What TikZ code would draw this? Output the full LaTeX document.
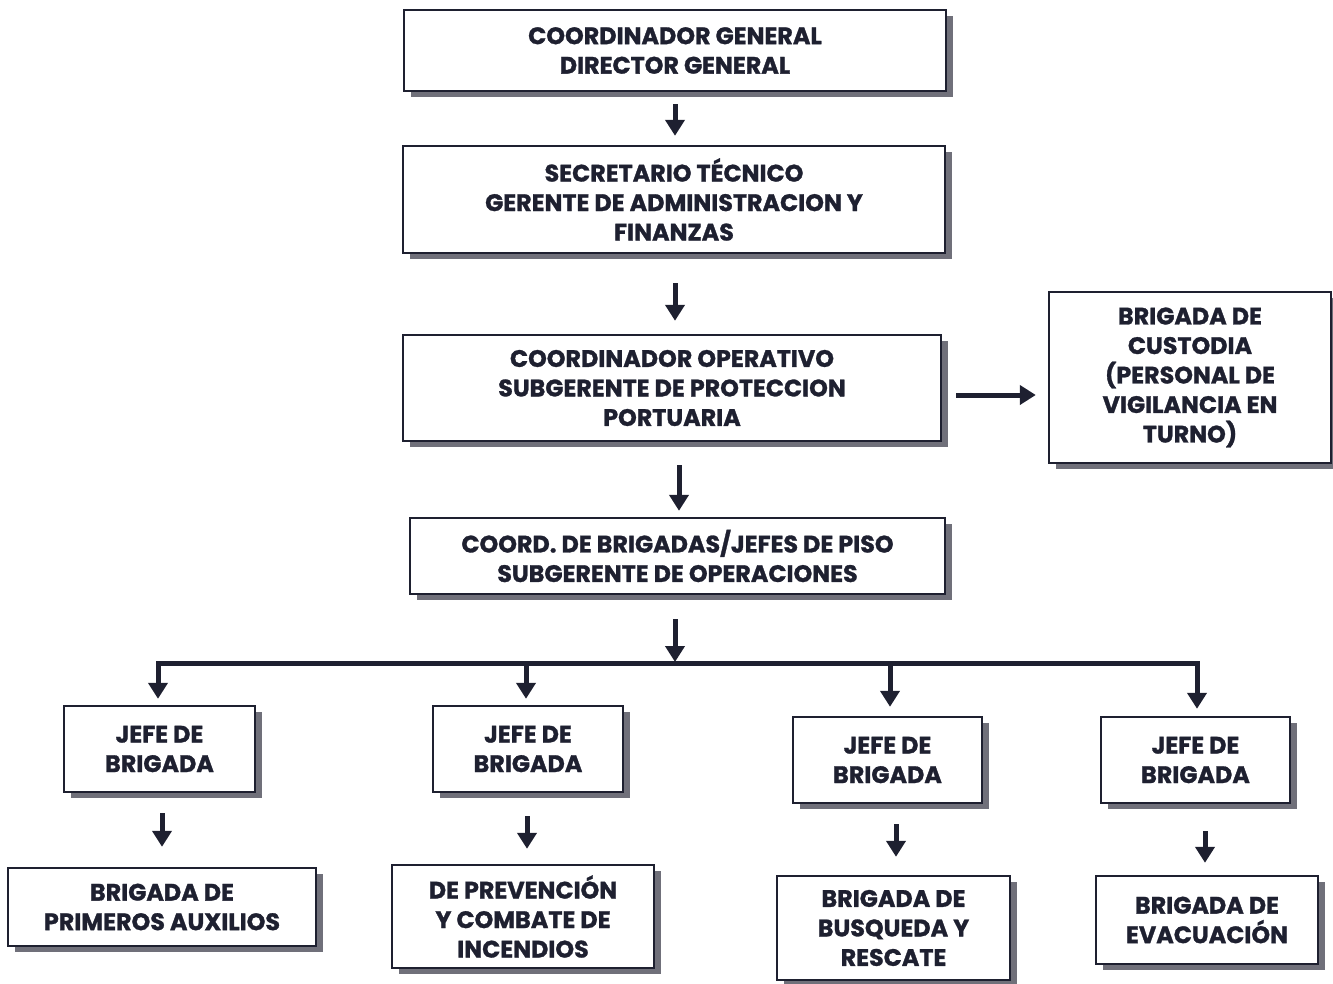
\documentclass[tikz,border=0pt]{standalone}
\usepackage{fontspec}
\setmainfont{Poppins}[BoldFeatures={FakeBold=1.2}]
\usetikzlibrary{arrows.meta,shadows,calc}
\definecolor{ink}{HTML}{1E2030}
\definecolor{shade}{HTML}{70707A}
\begin{document}
\begin{tikzpicture}[x=1pt,y=-1pt,
  box/.style={draw=ink,line width=2.4pt,fill=white,inner sep=0pt,align=center,
    font=\fontsize{23.8}{29.5}\selectfont\bfseries,text=ink,
    drop shadow={shadow xshift=7pt,shadow yshift=-6pt,fill=shade,opacity=1}},
  arr/.style={draw=ink,line width=5pt,-{Triangle[length=16pt,width=19pt]}},
  busline/.style={draw=ink,line width=5pt,line cap=rect}]
\useasboundingbox (0,0) rectangle (1333,984);
\node[box,minimum width=542pt,minimum height=81pt] (top) at (675,50.5) {COORDINADOR GENERAL\\DIRECTOR GENERAL};
\node[box,minimum width=542pt,minimum height=107pt] (sec) at (674,199.5) {SECRETARIO TÉCNICO\\GERENTE DE ADMINISTRACION Y\\FINANZAS};
\node[box,minimum width=538pt,minimum height=106pt] (op) at (672,388) {COORDINADOR OPERATIVO\\SUBGERENTE DE PROTECCION\\PORTUARIA};
\node[box,minimum width=282pt,minimum height=171pt] (cust) at (1190,377.5) {BRIGADA DE\\CUSTODIA\\(PERSONAL DE\\VIGILANCIA EN\\TURNO)};
\node[box,minimum width=535pt,minimum height=76pt] (cb) at (677.5,556) {COORD. DE BRIGADAS/JEFES DE PISO\\SUBGERENTE DE OPERACIONES};
\node[box,minimum width=191pt,minimum height=86pt] (j1) at (159.5,749) {JEFE DE\\BRIGADA};
\node[box,minimum width=190pt,minimum height=86pt] (j2) at (528,749) {JEFE DE\\BRIGADA};
\node[box,minimum width=189pt,minimum height=86pt] (j3) at (887.5,760) {JEFE DE\\BRIGADA};
\node[box,minimum width=189pt,minimum height=86pt] (j4) at (1195.5,760) {JEFE DE\\BRIGADA};
\node[box,minimum width=308pt,minimum height=78pt] (b1) at (162,907) {BRIGADA DE\\PRIMEROS AUXILIOS};
\node[box,minimum width=262pt,minimum height=103pt] (b2) at (523,916.5) {DE PREVENCIÓN\\Y COMBATE DE\\INCENDIOS};
\node[box,minimum width=233pt,minimum height=104pt] (b3) at (893.5,928) {BRIGADA DE\\BUSQUEDA Y\\RESCATE};
\node[box,minimum width=222pt,minimum height=88pt] (b4) at (1207,920) {BRIGADA DE\\EVACUACIÓN};
\coordinate (bus) at (675,663);
% vertical chain
\draw[arr,shorten <=12pt,shorten >=9pt] (top.south) -- (top.south |- sec.north);
\draw[arr,shorten <=29pt,shorten >=13pt] ([xshift=1pt]sec.south) -- ([xshift=1pt]sec.south |- op.north);
\draw[arr,shorten <=23pt,shorten >=6pt] ([xshift=7pt]op.south) -- ([xshift=7pt]op.south |- cb.north);
\draw[arr,shorten <=14pt,shorten >=12pt] ([yshift=-7pt]op.east) -- ([yshift=-7pt]op.east -| cust.west);
\draw[arr,shorten <=24pt,shorten >=1pt] (cb.south -| bus) -- (bus);
% bus
\draw[busline] ([xshift=-1.5pt]j1.north |- bus) -- ([xshift=1.5pt]j4.north |- bus);
\draw[arr,shorten >=6pt] ([xshift=-1.5pt]j1.north |- bus) -- ([xshift=-1.5pt]j1.north);
\draw[arr,shorten >=6pt] ([xshift=-2pt]j2.north |- bus) -- ([xshift=-2pt]j2.north);
\draw[arr,shorten >=9pt] ([xshift=2.5pt]j3.north |- bus) -- ([xshift=2.5pt]j3.north);
\draw[arr,shorten >=7pt] ([xshift=1.5pt]j4.north |- bus) -- ([xshift=1.5pt]j4.north);
% lower arrows
\draw[arr,shorten <=20pt,shorten >=20pt] (b1.north |- j1.south) -- (b1.north);
\draw[arr,shorten <=23pt,shorten >=15pt] ([xshift=4pt]b2.north |- j2.south) -- ([xshift=4pt]b2.north);
\draw[arr,shorten <=20pt,shorten >=18pt] ([xshift=2.5pt]b3.north |- j3.south) -- ([xshift=2.5pt]b3.north);
\draw[arr,shorten <=27pt,shorten >=12pt] ([xshift=-2pt]b4.north |- j4.south) -- ([xshift=-2pt]b4.north);
\end{tikzpicture}
\end{document}
